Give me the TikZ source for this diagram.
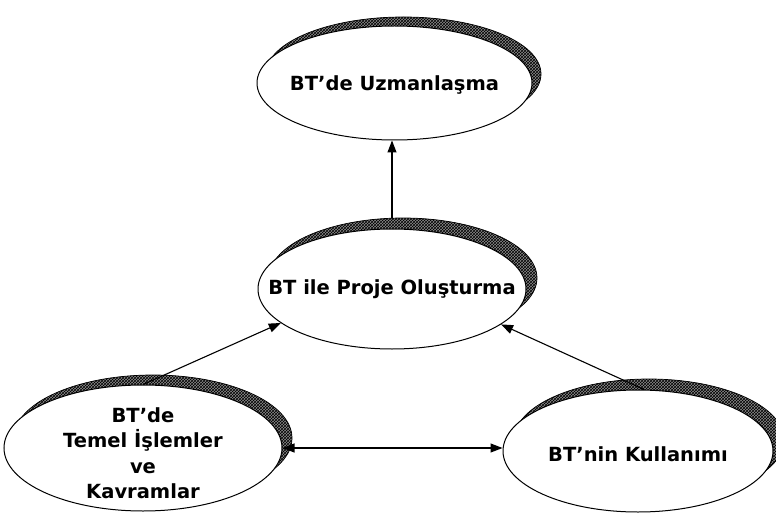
\documentclass[tikz,border=0pt]{standalone}
\usepackage{fontspec}
\setmainfont{DejaVu Sans}
\usetikzlibrary{shapes.geometric,arrows.meta,patterns}
\begin{document}
\begin{tikzpicture}[x=1pt,y=-1pt,
 bub/.style={ellipse, draw=black, line width=1pt, fill=white, inner sep=0pt},
 shd/.style={draw=black, line width=0.7pt, fill=black!45, postaction={pattern=crosshatch, pattern color=black}},
 lbl/.style={font=\bfseries\fontsize{19.5}{25.5}\selectfont, align=center, text=black},
 arr/.style={line width=1.1pt, -{Triangle[length=12pt,width=9pt]}},
 darr/.style={line width=1.1pt, {Triangle[length=12pt,width=9pt]}-{Triangle[length=12pt,width=9pt]}}]
\useasboundingbox (0,0) rectangle (776,513);
% shadows
\path[shd] (403.5,74) ellipse [x radius=137.5, y radius=57];
\path[shd] (403,278) ellipse [x radius=134, y radius=60];
\path[shd] (153,438) ellipse [x radius=139, y radius=63];
\path[shd] (649,440) ellipse [x radius=135, y radius=61];
% ellipses
\node[bub, minimum width=275pt, minimum height=114pt] (uz) at (394.5,83) {};
\node[bub, minimum width=268pt, minimum height=120pt] (mid) at (392,289) {};
\node[bub, minimum width=278pt, minimum height=126pt] (bl) at (143,448) {};
\node[bub, minimum width=270pt, minimum height=122pt] (br) at (638,451) {};
% texts
\node[lbl] (uzt) at ([yshift=-2pt]uz.center) {BT’de Uzmanlaşma};
\node[lbl] (midt) at (mid.center) {BT ile Proje Oluşturma};
\node[lbl] (blt) at ([yshift=-5pt]bl.center) {BT’de\\Temel İşlemler\\ve\\Kavramlar};
\node[lbl] (brt) at ([yshift=-3pt]br.center) {BT’nin Kullanımı};
% connectors
\coordinate (mids) at (392,218);
\draw[arr] (mids) -- (mids |- uz.south);
\draw[arr] (bl.north) -- (mid.197);
\draw[arr] ([xshift=6pt]br.north) -- (mid.-18);
\draw[darr] (bl.east) -- (bl.east -| br.west);
\end{tikzpicture}
\end{document}
